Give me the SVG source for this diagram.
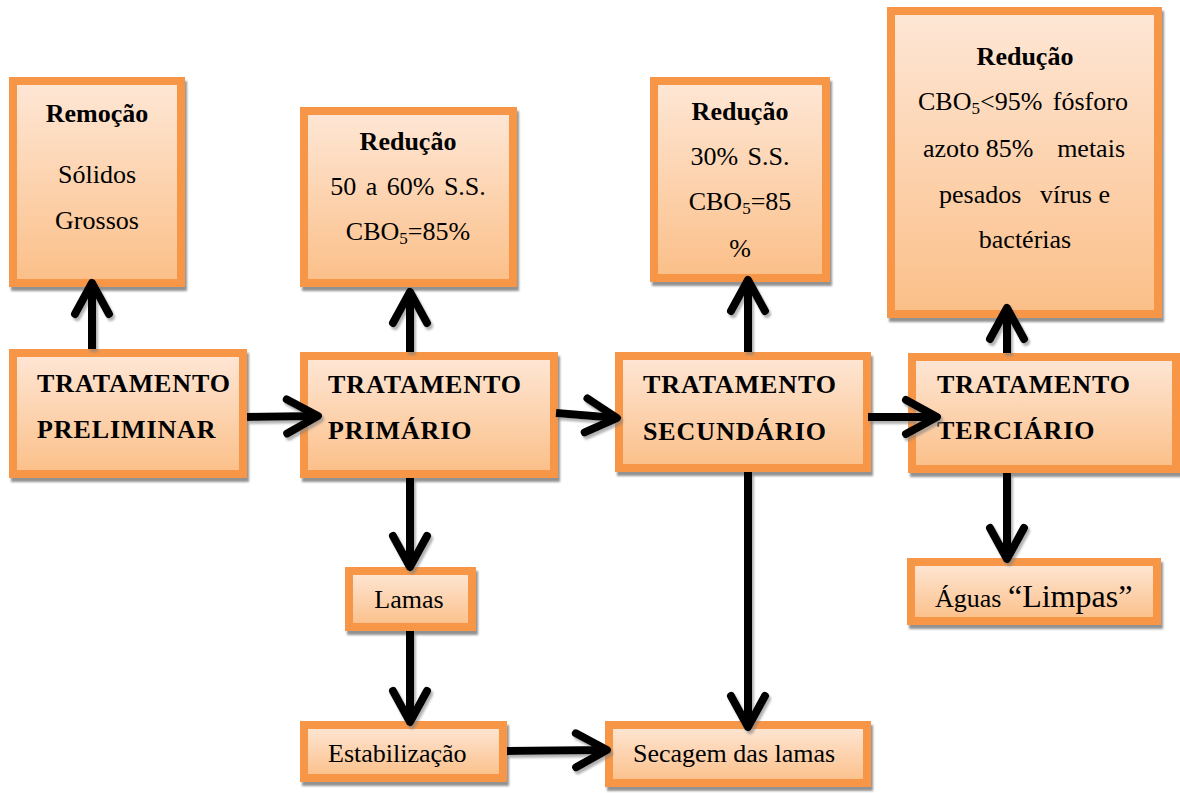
<svg xmlns="http://www.w3.org/2000/svg" width="1180" height="793" viewBox="0 0 1180 793">
<defs>
<linearGradient id="g" x1="0" y1="0" x2="0" y2="1">
<stop offset="0" stop-color="#fee7d6"/>
<stop offset="1" stop-color="#fbbf88"/>
</linearGradient>
<filter id="sh" x="-10%" y="-10%" width="130%" height="130%">
<feDropShadow dx="2" dy="4" stdDeviation="0.8" flood-color="#7f7f7f" flood-opacity="0.85"/>
</filter>
<filter id="ash" x="-20%" y="-20%" width="140%" height="140%">
<feDropShadow dx="2" dy="3" stdDeviation="1.2" flood-color="#808080" flood-opacity="0.6"/>
</filter>
<marker id="chev" markerUnits="userSpaceOnUse" orient="auto" viewBox="-40 -24 48 48" markerWidth="48" markerHeight="48" refX="0" refY="0" overflow="visible">
<path d="M-31,-17 L0,0 L-31,17" fill="none" stroke="#000" stroke-width="8" stroke-linecap="round" stroke-linejoin="round"/>
</marker>
</defs>
<style>
.box{fill:url(#g);stroke:#f79646;stroke-width:8;filter:url(#sh)}
.t{font-family:"Liberation Serif","Times New Roman",serif;font-size:26px;fill:#000}
.b{font-weight:bold}
.cap{letter-spacing:0.9px}
.c{text-anchor:middle}
.conn line{stroke:#000;stroke-width:8;marker-end:url(#chev)}
</style>

<g id="remocao">
<rect class="box" x="13" y="81" width="168" height="202"/>
<text class="t b c" x="97" y="122">Remoção</text>
<text class="t c" x="97" y="183">Sólidos</text>
<text class="t c" x="97" y="229">Grossos</text>
</g>

<g id="preliminar">
<rect class="box" x="13" y="353" width="230" height="121"/>
<text class="t b cap" x="37" y="392">TRATAMENTO</text>
<text class="t b cap" x="37" y="438">PRELIMINAR</text>
</g>

<g id="reducao1">
<rect class="box" x="304" y="111" width="209" height="172"/>
<text class="t b c" x="408" y="150">Redução</text>
<text class="t c" x="408" y="195" word-spacing="3">50 a 60% S.S.</text>
<text class="t c" x="408" y="240">CBO<tspan font-size="17" dy="4">5</tspan><tspan dy="-4">=85%</tspan></text>
</g>

<g id="primario">
<rect class="box" x="304" y="356" width="250" height="118"/>
<text class="t b cap" x="328" y="393">TRATAMENTO</text>
<text class="t b cap" x="328" y="439">PRIMÁRIO</text>
</g>

<g id="reducao2">
<rect class="box" x="654" y="81" width="172" height="197"/>
<text class="t b c" x="740" y="120">Redução</text>
<text class="t c" x="740" y="165" word-spacing="3">30% S.S.</text>
<text class="t c" x="740" y="210">CBO<tspan font-size="17" dy="4">5</tspan><tspan dy="-4">=85</tspan></text>
<text class="t c" x="740" y="257">%</text>
</g>

<g id="secundario">
<rect class="box" x="619" y="356" width="248" height="112"/>
<text class="t b cap" x="643" y="393">TRATAMENTO</text>
<text class="t b cap" x="643" y="440">SECUNDÁRIO</text>
</g>

<g id="reducao3">
<rect class="box" x="891" y="11" width="267" height="303"/>
<text class="t b c" x="1025" y="65">Redução</text>
<text class="t" y="110" word-spacing="4"><tspan x="918">CBO</tspan><tspan font-size="17" dy="4">5</tspan><tspan dy="-4">&lt;95% fósforo</tspan></text>
<text class="t" y="157"><tspan x="923">azoto 85%</tspan><tspan x="1125" text-anchor="end">metais</tspan></text>
<text class="t" y="203"><tspan x="939">pesados</tspan><tspan x="1110" text-anchor="end">vírus e</tspan></text>
<text class="t c" x="1025" y="248">bactérias</text>
</g>

<g id="terciario">
<rect class="box" x="912" y="357" width="264" height="112"/>
<text class="t b cap" x="937" y="393">TRATAMENTO</text>
<text class="t b cap" x="937" y="439">TERCIÁRIO</text>
</g>

<g id="lamas">
<rect class="box" x="349" y="571" width="123" height="56"/>
<text class="t c" x="409" y="608">Lamas</text>
</g>

<g id="estabilizacao">
<rect class="box" x="304" y="725" width="199" height="53"/>
<text class="t" x="328" y="762">Estabilização</text>
</g>

<g id="secagem">
<rect class="box" x="609" y="725" width="258" height="58"/>
<text class="t" x="633" y="762">Secagem das lamas</text>
</g>

<g id="aguas">
<rect class="box" x="911" y="562" width="246" height="59"/>
<text class="t" x="935" y="607">Águas <tspan font-size="32">“Limpas”</tspan></text>
</g>

<g id="connectors" class="conn" filter="url(#ash)">
<line x1="92" y1="349" x2="92" y2="283"/>
<line x1="247" y1="417" x2="318" y2="416"/>
<line x1="410" y1="352" x2="410" y2="292"/>
<line x1="410" y1="478" x2="410" y2="567"/>
<line x1="556" y1="413" x2="617" y2="418"/>
<line x1="748" y1="352" x2="748" y2="280"/>
<line x1="868" y1="417" x2="937" y2="417"/>
<line x1="748" y1="472" x2="748" y2="727"/>
<line x1="1007" y1="353" x2="1007" y2="308"/>
<line x1="1007" y1="473" x2="1007" y2="559"/>
<line x1="410" y1="631" x2="410" y2="722"/>
<line x1="507" y1="751" x2="607" y2="750"/>
</g>
</svg>
